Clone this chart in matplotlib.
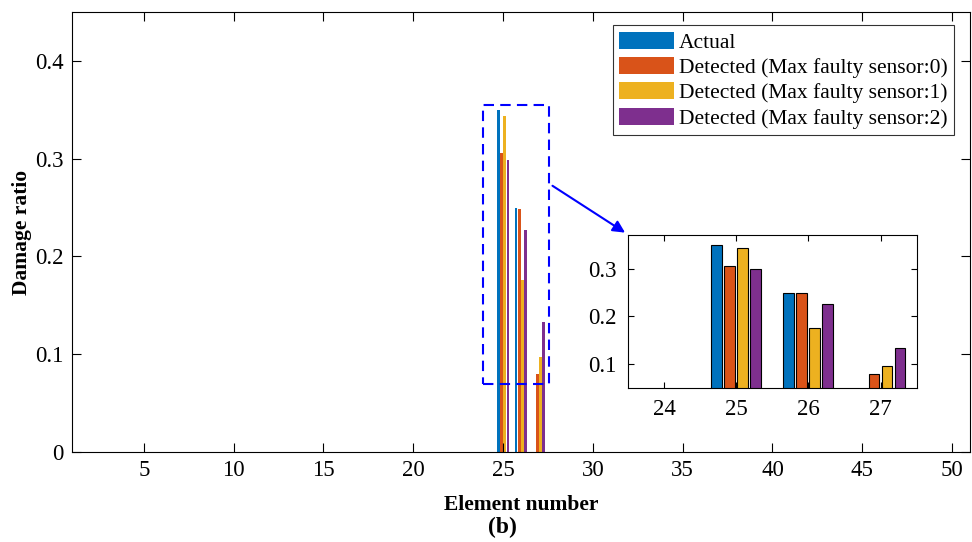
import numpy as np
import matplotlib
matplotlib.use("Agg")
import matplotlib.pyplot as plt
from matplotlib.patches import Rectangle

plt.rcParams['font.family'] = ['Liberation Serif', 'DejaVu Serif']
plt.rcParams['mathtext.fontset'] = 'stix'

# damage ratio per element (elements 1..50)
elements = np.arange(1, 51)
actual = [0.0]*24 + [0.35, 0.25, 0.0] + [0.0]*23
det_s0 = [0.0]*24 + [0.306, 0.248, 0.080] + [0.0]*23
det_s1 = [0.0]*24 + [0.344, 0.176, 0.097] + [0.0]*23
det_s2 = [0.0]*24 + [0.299, 0.227, 0.133] + [0.0]*23

series = [actual, det_s0, det_s1, det_s2]
labels = ['Actual', 'Detected (Max faulty sensor:0)',
          'Detected (Max faulty sensor:1)', 'Detected (Max faulty sensor:2)']
colors = ['#0072BD', '#D95319', '#EDB120', '#7E2F8E']
offsets = [-0.27, -0.09, 0.09, 0.27]
bw = 0.15

fig = plt.figure(figsize=(9.72, 5.42), dpi=100)
ax = fig.add_axes([0.074, 0.166, 0.924, 0.812])

for vals, lab, c, off in zip(series, labels, colors, offsets):
    ax.bar(elements + off, vals, width=bw, color=c, label=lab, linewidth=0)

ax.set_xlim(1, 51)
ax.set_ylim(0, 0.45)
ax.set_xticks(range(5, 51, 5))
ax.set_yticks([0, 0.1, 0.2, 0.3, 0.4])
ax.set_yticklabels(['0', '0.1', '0.2', '0.3', '0.4'])
ax.tick_params(direction='in', top=True, right=True, labelsize=16.5, length=6.5, pad=6)
ax.set_xlabel('Element number', fontsize=15.5, fontweight='bold', labelpad=10)
ax.set_ylabel('Damage ratio', fontsize=15.5, fontweight='bold', labelpad=2)
fig.text(0.517, 0.026, '(b)', fontsize=17, fontweight='bold', ha='center', va='center')

leg = ax.legend(loc='upper right', fontsize=15.5, frameon=True, fancybox=False,
                edgecolor='black', handlelength=2.55, handleheight=0.85,
                handletextpad=0.2, labelspacing=0.2, borderpad=0.3,
                bbox_to_anchor=(0.982, 0.97), borderaxespad=0)
leg.get_frame().set_linewidth(0.8)

# zoom box and arrow
ax.add_patch(Rectangle((23.87, 0.0694), 27.55 - 23.87, 0.355 - 0.0694, fill=False,
                       edgecolor='blue', linestyle=(0, (5, 3)), linewidth=1.5))
ax.annotate('', xy=(0.6455, 0.568), xycoords='figure fraction',
            xytext=(0.566, 0.66), textcoords='figure fraction',
            arrowprops=dict(arrowstyle='-|>', color='blue', lw=1.5, mutation_scale=18))

# inset
axi = fig.add_axes([0.646, 0.284, 0.297, 0.282])
for vals, c, off in zip(series, colors, offsets):
    axi.bar(elements + off, vals, width=bw, color=c, edgecolor='black', linewidth=0.8)
axi.set_xlim(23.5, 27.5)
axi.set_ylim(0.05, 0.37)
axi.set_xticks([24, 25, 26, 27])
axi.set_yticks([0.1, 0.2, 0.3])
axi.tick_params(direction='in', top=True, right=True, labelsize=16.5, length=4, pad=8)

fig.savefig('out.png', dpi=100)
